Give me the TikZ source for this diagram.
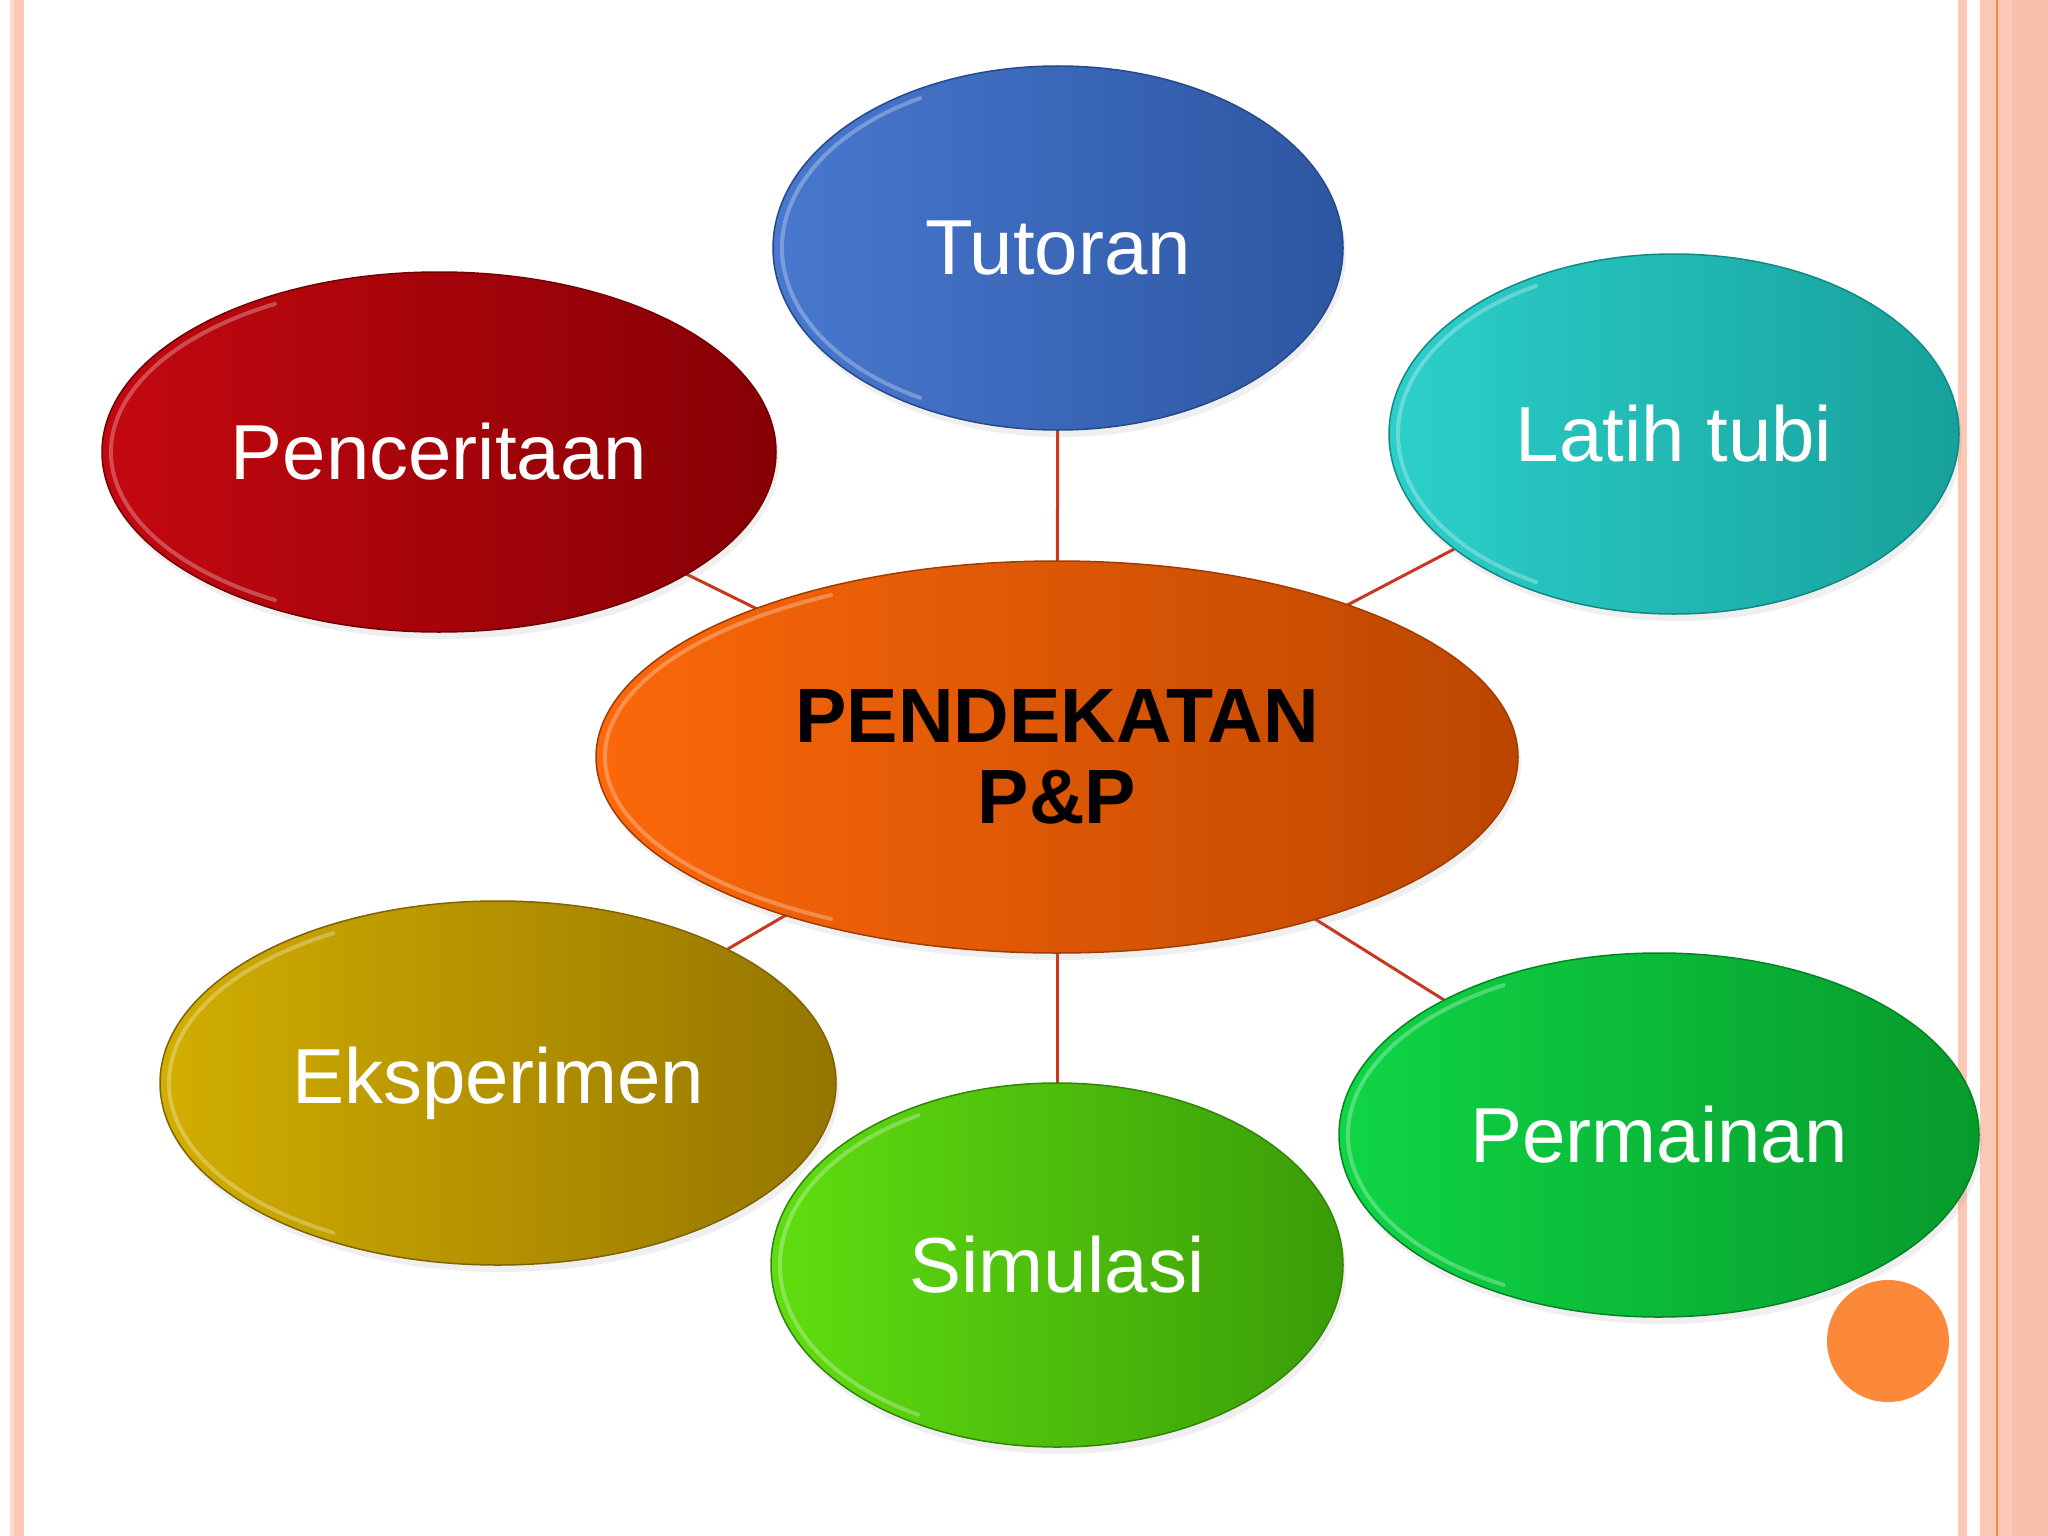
\documentclass[tikz,border=0pt]{standalone}
\usepackage{fontspec}
\setmainfont{Liberation Sans}
\usetikzlibrary{shapes.geometric,shadows}
\definecolor{linkred}{HTML}{C9371E}
\definecolor{pinkband}{HTML}{FBC9B5}
\definecolor{pinkdark}{HTML}{F9C0AA}
\definecolor{bandline}{HTML}{F08A4B}
\definecolor{dotorange}{HTML}{FC883A}
\definecolor{tutL}{HTML}{4878CF}\definecolor{tutR}{HTML}{2D56A2}
\definecolor{penL}{HTML}{C40810}\definecolor{penR}{HTML}{860004}
\definecolor{latL}{HTML}{2CD0CB}\definecolor{latR}{HTML}{17A09B}
\definecolor{cenL}{HTML}{FC680A}\definecolor{cenR}{HTML}{BC4600}
\definecolor{ekL}{HTML}{D2AE00}\definecolor{ekR}{HTML}{957500}
\definecolor{simL}{HTML}{60DE10}\definecolor{simR}{HTML}{3A9C08}
\definecolor{perL}{HTML}{0FD645}\definecolor{perR}{HTML}{079A2C}
\begin{document}
\begin{tikzpicture}[x=1pt,y=-1pt,
  bub/.style={ellipse, inner sep=0pt, line width=1.5pt,
    text=white, font=\fontsize{78}{82}\selectfont,
    drop shadow={opacity=0.12, shadow xshift=3pt, shadow yshift=-7pt}},
  rim/.style={draw=white, opacity=0.28, line width=4pt, line cap=round},
  link/.style={draw=linkred, line width=3pt}]
\useasboundingbox (0,0) rectangle (2048,1536);
\fill[white] (0,0) rectangle (2048,1536);
% borders
\fill[pinkband!70] (10,0) rectangle (14,1536);
\fill[pinkband] (14,0) rectangle (24,1536);
\fill[pinkband] (1958,0) rectangle (1967,1536);
\fill[pinkband] (1980,0) rectangle (2012,1536);
\fill[pinkdark] (2012,0) rectangle (2048,1536);
\fill[bandline] (1995.5,0) rectangle (1998,1536);
% node positions
\coordinate (pcen) at (1057,757);
\coordinate (ptut) at (1058,248);
\coordinate (ppen) at (439,452);
\coordinate (plat) at (1674,434);
\coordinate (pek) at (498,1083);
\coordinate (psim) at (1057,1265);
\coordinate (pper) at (1659,1135);
% connectors (behind)
\draw[link] (pcen) -- (ptut);
\draw[link] (pcen) -- (ppen);
\draw[link] (pcen) -- (plat);
\draw[link] (pcen) -- (pek);
\draw[link] (pcen) -- (psim);
\draw[link] (pcen) -- (pper);
% bubbles
\node[bub, draw=tutR!85!black, minimum width=570pt, minimum height=364pt, left color=tutL, right color=tutR] (tut) at (ptut) {Tutoran};
\draw[rim] (tut.center) ++(120:276 and 173) arc[start angle=120, end angle=240, x radius=276, y radius=173];
\node[bub, draw=penR!85!black, minimum width=674pt, minimum height=360pt, left color=penL, right color=penR] (pen) at (ppen) {Penceritaan};
\draw[rim] (pen.center) ++(120:328 and 171) arc[start angle=120, end angle=240, x radius=328, y radius=171];
\node[bub, draw=latR!85!black, minimum width=570pt, minimum height=360pt, left color=latL, right color=latR] (lat) at (plat) {Latih tubi};
\draw[rim] (lat.center) ++(120:276 and 171) arc[start angle=120, end angle=240, x radius=276, y radius=171];
\node[bub, draw=cenR!85!black, minimum width=922pt, minimum height=392pt, left color=cenL, right color=cenR, text=black, font=\fontsize{77}{81}\selectfont\bfseries, align=center] (cen) at (pcen) {PENDEKATAN\\P\&P};
\draw[rim] (cen.center) ++(120:452 and 187) arc[start angle=120, end angle=240, x radius=452, y radius=187];
\node[bub, draw=ekR!85!black, minimum width=676pt, minimum height=364pt, left color=ekL, right color=ekR] (ek) at (pek) {Eksperimen};
\draw[rim] (ek.center) ++(120:329 and 173) arc[start angle=120, end angle=240, x radius=329, y radius=173];
\node[bub, draw=simR!85!black, minimum width=572pt, minimum height=364pt, left color=simL, right color=simR] (sim) at (psim) {Simulasi};
\draw[rim] (sim.center) ++(120:277 and 173) arc[start angle=120, end angle=240, x radius=277, y radius=173];
\node[bub, draw=perR!85!black, minimum width=640pt, minimum height=364pt, left color=perL, right color=perR] (per) at (pper) {Permainan};
\draw[rim] (per.center) ++(120:311 and 173) arc[start angle=120, end angle=240, x radius=311, y radius=173];
% orange dot
\fill[dotorange] (1888,1341) circle [radius=61];
\end{tikzpicture}
\end{document}
